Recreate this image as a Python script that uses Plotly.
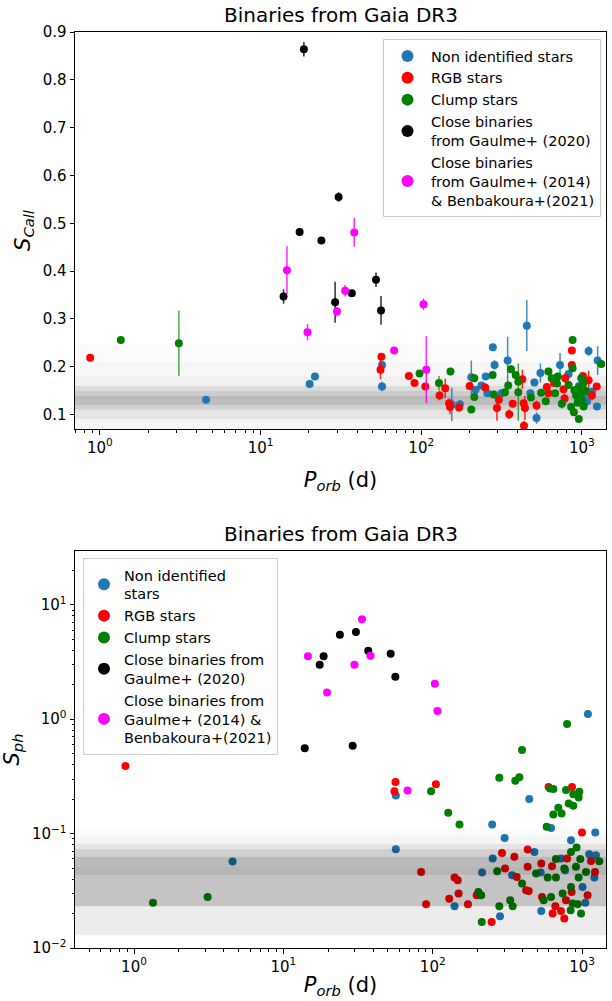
import plotly.graph_objects as go

# ---------------- data: top panel (S_Call) ----------------
top_blue_p = [4.58, 20.2, 21.8, 57.0, 57.0, 155, 174, 205, 218, 237, 252, 258, 279, 286, 316, 345, 454,
              478, 506, 522, 552, 731, 826, 953, 1075, 1101, 1253, 1241, 1155, 960, 1040]
top_blue_s = [0.131, 0.164, 0.180, 0.204, 0.159, 0.121, 0.122, 0.178, 0.152, 0.161, 0.180, 0.145, 0.241, 0.204,
              0.145, 0.213, 0.286, 0.145, 0.167, 0.093, 0.187, 0.204, 0.185, 0.131, 0.128, 0.233, 0.213, 0.117,
              0.148, 0.160, 0.145]
top_blue_e = [0, 0.005, 0.005, 0.005, 0.01, 0.035, 0.005, 0.035, 0.008, 0.005, 0.005, 0.008, 0.005, 0.01,
              0.005, 0.05, 0.053, 0.005, 0.005, 0.012, 0.02, 0.025, 0.005, 0.005, 0.01, 0.01, 0.03, 0.005,
              0.005, 0.005, 0.008]

top_red_p = [0.87, 56.5, 55.8, 83.8, 90.8, 106, 130, 141, 149, 151, 172, 200, 250, 304, 296, 353, 371, 426,
             434, 442, 436, 522, 605, 619, 671, 768, 780, 787, 866, 866, 1014, 1101, 1155, 1236]
top_red_s = [0.219, 0.221, 0.194, 0.181, 0.166, 0.159, 0.140, 0.155, 0.124, 0.116, 0.115, 0.160, 0.157, 0.131,
             0.114, 0.101, 0.123, 0.174, 0.124, 0.114, 0.077, 0.119, 0.158, 0.145, 0.166, 0.153, 0.134, 0.176,
             0.234, 0.204, 0.181, 0.172, 0.140, 0.159]
top_red_e = [0, 0.005, 0.02, 0.005, 0.005, 0.005, 0.01, 0.02, 0.01, 0.015, 0.008, 0.005, 0.008, 0.01, 0.027,
             0.01, 0.005, 0.02, 0.008, 0.025, 0.01, 0.01, 0.005, 0.005, 0.005, 0.005, 0.01, 0.01, 0.005, 0.005,
             0.005, 0.02, 0.01, 0.005]

top_green_p = [1.35, 3.10, 97.6, 129, 152, 205, 214, 214, 278, 283, 332, 348, 362, 387, 402, 402, 482, 557,
               596, 619, 649, 681, 708, 750, 826, 875, 875, 900, 857, 891, 957, 990, 975, 1000, 1025, 1320,
               950, 920, 1050, 940, 700, 1020]
top_green_s = [0.256, 0.2495, 0.186, 0.166, 0.190, 0.111, 0.176, 0.137, 0.183, 0.142, 0.147, 0.161, 0.195,
               0.183, 0.169, 0.147, 0.136, 0.146, 0.128, 0.190, 0.176, 0.145, 0.180, 0.123, 0.162, 0.256, 0.197,
               0.151, 0.116, 0.105, 0.091, 0.176, 0.145, 0.131, 0.117, 0.206, 0.155, 0.140, 0.150, 0.125,
               0.165, 0.165]
top_green_e = [0, 0.068, 0.005, 0.015, 0.008, 0.005, 0.008, 0.005, 0.005, 0.005, 0.005, 0.005, 0.008, 0.005,
               0.005, 0.06, 0.005, 0.005, 0.005, 0.008, 0.005, 0.005, 0.008, 0.01, 0.005, 0.005, 0.005, 0.008,
               0.005, 0.008, 0.005, 0.005, 0.005, 0.005, 0.005, 0.005, 0.005, 0.005, 0.005, 0.005, 0.005, 0.005]

g20_p = [18.6, 30.6, 17.5, 23.9, 13.9, 29.1, 37.0, 52.3, 56.2]
g20_scall = [0.864, 0.555, 0.482, 0.464, 0.347, 0.335, 0.354, 0.382, 0.318]
g20_scall_e = [0.015, 0.01, 0.005, 0.005, 0.015, 0.043, 0.005, 0.015, 0.03]
g20_sph = [3.54, 5.78, 2.99, 5.47, 0.558, 0.585, 3.96, 3.73, 2.35]

g14_p = [14.6, 19.6, 38.3, 33.6, 29.9, 67.8, 103.3, 107.5]
g14_scall = [0.402, 0.2725, 0.481, 0.359, 0.3155, 0.234, 0.331, 0.194]
g14_scall_e = [0.05, 0.017, 0.03, 0.012, 0.01, 0, 0.012, 0.07]
g14_sph = [3.54, 1.71, 3.59, 7.46, 2.99, 0.238, 2.04, 1.18]

# ---------------- data: bottom panel (S_ph) ----------------
bot_blue_p = [4.57, 56.6, 56.6, 443, 250, 303, 620, 843, 1225, 1094, 252, 214, 340, 479, 528, 722, 769, 1007,
              1050, 1117, 1238, 1208, 533, 282, 140]
bot_blue_s = [0.057, 0.215, 0.073, 0.201, 0.120, 0.0917, 0.112, 0.0876, 0.102, 1.11, 0.0606, 0.0457, 0.0433,
              0.0692, 0.0457, 0.0606, 0.0479, 0.0342, 0.0248, 0.0660, 0.0647, 0.0413, 0.0211, 0.0189, 0.0232]

bot_red_p = [0.876, 56.3, 55.4, 105, 597, 856, 998, 83.6, 90.3, 140, 147, 129, 149, 172, 197, 248, 291, 305,
             352, 365, 432, 432, 422, 439, 533, 539, 629, 662, 635, 722, 760, 780, 851, 793, 1088, 1148, 1220]
bot_red_s = [0.389, 0.282, 0.235, 0.270, 0.256, 0.256, 0.102, 0.0462, 0.0241, 0.0413, 0.0391, 0.0270, 0.0299,
             0.0241, 0.0289, 0.0169, 0.0678, 0.0496, 0.0626, 0.0418, 0.0726, 0.0512, 0.0320, 0.0315, 0.0548,
             0.0279, 0.0519, 0.0232, 0.0200, 0.0211, 0.0181, 0.0261, 0.0309, 0.0606, 0.0289, 0.0577, 0.0462]

bot_green_p = [1.34, 3.11, 396, 279, 357, 380, 97.5, 127, 151, 610, 642, 780, 873, 958, 948, 693, 642, 729, 813,
               873, 579, 793, 918, 843, 668, 972, 1303, 910, 760, 1062, 588, 668, 948, 843, 741, 620, 553, 864,
               933, 984, 838, 396, 270, 202, 211, 330, 343, 279, 213, 492]
bot_green_s = [0.0249, 0.0279, 0.537, 0.307, 0.289, 0.310, 0.235, 0.152, 0.120, 0.248, 0.245, 0.240, 0.221,
               0.232, 0.207, 0.168, 0.147, 0.150, 0.183, 0.175, 0.1145, 0.906, 0.0755, 0.0692, 0.0601, 0.0601,
               0.0574, 0.0512, 0.0496, 0.0462, 0.0413, 0.0413, 0.0413, 0.0342, 0.0299, 0.0279, 0.0261, 0.0245,
               0.0241, 0.0200, 0.0214, 0.0366, 0.0469, 0.0309, 0.0289, 0.0261, 0.0232, 0.0232, 0.0169, 0.0448]

# gray reference bands (value ranges and opacity)
top_band_lo = [0.07, 0.091, 0.110, 0.120, 0.131, 0.139, 0.150, 0.160, 0.180, 0.21]
top_band_hi = [0.091, 0.110, 0.120, 0.131, 0.139, 0.150, 0.160, 0.180, 0.21, 0.25]
top_band_a = [0.04, 0.10, 0.18, 0.26, 0.28, 0.20, 0.14, 0.06, 0.03, 0.012]
bot_band_lo = [0.0129, 0.0232, 0.0433, 0.0517, 0.0626, 0.0731, 0.081, 0.095]
bot_band_hi = [0.0232, 0.0433, 0.0517, 0.0626, 0.0731, 0.081, 0.095, 0.11]
bot_band_a = [0.075, 0.23, 0.29, 0.27, 0.19, 0.10, 0.04, 0.02]

names_top = ["Non identified stars", "RGB stars", "Clump stars",
             "Close binaries<br>from Gaulme+ (2020)",
             "Close binaries<br>from Gaulme+ (2014)<br>& Benbakoura+(2021)"]
names_bot = ["Non identified<br>stars", "RGB stars", "Clump stars",
             "Close binaries from<br>Gaulme+ (2020)",
             "Close binaries from<br>Gaulme+ (2014) &<br>Benbakoura+(2021)"]
colors = ["#1f77b4", "#ff0000", "#008000", "#000000", "#ff00ff"]
err_colors = ["rgba(31,119,180,0.85)", "rgba(255,0,0,0.85)", "rgba(0,128,0,0.7)",
              "rgba(20,35,55,0.95)", "rgba(255,0,255,0.85)"]

FONT = "DejaVu Sans"
fig = go.Figure()

top_sets = [(top_blue_p, top_blue_s, top_blue_e), (top_red_p, top_red_s, top_red_e),
            (top_green_p, top_green_s, top_green_e), (g20_p, g20_scall, g20_scall_e),
            (g14_p, g14_scall, g14_scall_e)]
for i, (p, s, e) in enumerate(top_sets):
    fig.add_trace(go.Scatter(
        x=p, y=s, mode="markers", name=names_top[i], legend="legend",
        marker=dict(color=colors[i], size=8, line=dict(width=0)),
        error_y=dict(type="data", array=e, visible=True, color=err_colors[i], thickness=1.5, width=0),
        xaxis="x", yaxis="y"))

bot_sets = [(bot_blue_p, bot_blue_s), (bot_red_p, bot_red_s), (bot_green_p, bot_green_s),
            (g20_p, g20_sph), (g14_p, g14_sph)]
for i, (p, s) in enumerate(bot_sets):
    fig.add_trace(go.Scatter(
        x=p, y=s, mode="markers", name=names_bot[i], legend="legend2",
        marker=dict(color=colors[i], size=8, line=dict(width=0)),
        xaxis="x2", yaxis="y2"))

shapes = []
for lo, hi, a in zip(top_band_lo, top_band_hi, top_band_a):
    shapes.append(dict(type="rect", xref="x domain", yref="y", x0=0, x1=1, y0=lo, y1=hi,
                       fillcolor=f"rgba(0,0,0,{a})", line=dict(width=0), layer="below"))
for lo, hi, a in zip(bot_band_lo, bot_band_hi, bot_band_a):
    shapes.append(dict(type="rect", xref="x2 domain", yref="y2", x0=0, x1=1, y0=lo, y1=hi,
                       fillcolor=f"rgba(0,0,0,{a})", line=dict(width=0), layer="above"))

decades_x = [1, 10, 100, 1000]
ticktext_x = ["10<sup>0</sup>", "10<sup>1</sup>", "10<sup>2</sup>", "10<sup>3</sup>"]
minor_x = [m * d for d in [0.1, 1, 10, 100, 1000] for m in range(2, 10)]
decades_y = [0.01, 0.1, 1, 10]
ticktext_y = ["10<sup>\u22122</sup>", "10<sup>\u22121</sup>", "10<sup>0</sup>", "10<sup>1</sup>"]
minor_y = [m * d for d in [0.01, 0.1, 1, 10] for m in range(2, 10)]

W, H = 612, 1001
X0, X1 = 75 / W, 606 / W

def ax_common(**kw):
    d = dict(showline=True, linecolor="black", linewidth=1, mirror=True, ticks="outside",
             ticklen=4.5, tickwidth=1, tickcolor="black", showgrid=False, zeroline=False,
             automargin=False,
             tickfont=dict(family=FONT, size=15, color="black"))
    d.update(kw)
    return d

fig.update_layout(
    width=W, height=H, margin=dict(l=0, r=0, t=0, b=0, autoexpand=False),
    plot_bgcolor="white", paper_bgcolor="white",
    font=dict(family=FONT, color="black"),
    shapes=shapes,
    xaxis=ax_common(type="log", domain=[X0, X1], anchor="y", range=[-0.155, 3.15],
                    tickmode="array", tickvals=decades_x, ticktext=ticktext_x,
                    minor=dict(tickmode="array", tickvals=minor_x, ticks="outside", ticklen=2.5,
                               tickcolor="black", showgrid=False),
                    title=dict(text="<i>P</i><sub><i>orb</i></sub> (d)",
                               font=dict(family=FONT, size=21), standoff=16)),
    yaxis=ax_common(domain=[1 - 429 / H, 1 - 32 / H], anchor="x", range=[0.07, 0.9],
                    tickmode="array", tickvals=[0.1, 0.2, 0.3, 0.4, 0.5, 0.6, 0.7, 0.8, 0.9],
                    ticktext=["0.1", "0.2", "0.3", "0.4", "0.5", "0.6", "0.7", "0.8", "0.9"],
                    title=dict(text="<i>S</i><sub><i>Call</i></sub>",
                               font=dict(family=FONT, size=21), standoff=6)),
    xaxis2=ax_common(type="log", domain=[X0, X1], anchor="y2", range=[-0.395, 3.16],
                     tickmode="array", tickvals=decades_x, ticktext=ticktext_x,
                     minor=dict(tickmode="array", tickvals=minor_x, ticks="outside", ticklen=2.5,
                                tickcolor="black", showgrid=False),
                     title=dict(text="<i>P</i><sub><i>orb</i></sub> (d)",
                                font=dict(family=FONT, size=21), standoff=2)),
    yaxis2=ax_common(type="log", domain=[1 - 948 / H, 1 - 551 / H], anchor="x2", range=[-2, 1.47],
                     tickmode="array", tickvals=decades_y, ticktext=ticktext_y,
                     minor=dict(tickmode="array", tickvals=minor_y, ticks="outside", ticklen=2.5,
                                tickcolor="black", showgrid=False),
                     title=dict(text="<i>S</i><sub><i>ph</i></sub>",
                                font=dict(family=FONT, size=21), standoff=6)),
    legend=dict(x=601 / W, y=1 - 39 / H, xanchor="right", yanchor="top", itemwidth=37,
                bgcolor="rgba(255,255,255,0.85)", bordercolor="#cccccc", borderwidth=1,
                font=dict(family=FONT, size=14.5, color="black"), itemsizing="constant"),
    legend2=dict(x=83 / W, y=1 - 558 / H, xanchor="left", yanchor="top",
                 bgcolor="rgba(255,255,255,0.85)", bordercolor="#cccccc", borderwidth=1,
                 font=dict(family=FONT, size=14.5, color="black"), itemsizing="constant"),
    annotations=[
        dict(text="Binaries from Gaia DR3", x=(X0 + X1) / 2, y=1 - 15 / H, xref="paper", yref="paper",
             xanchor="center", yanchor="middle", showarrow=False, font=dict(family=FONT, size=20)),
        dict(text="Binaries from Gaia DR3", x=(X0 + X1) / 2, y=1 - 534 / H, xref="paper", yref="paper",
             xanchor="center", yanchor="middle", showarrow=False, font=dict(family=FONT, size=20)),
    ],
)

fig.write_html("out.html")
